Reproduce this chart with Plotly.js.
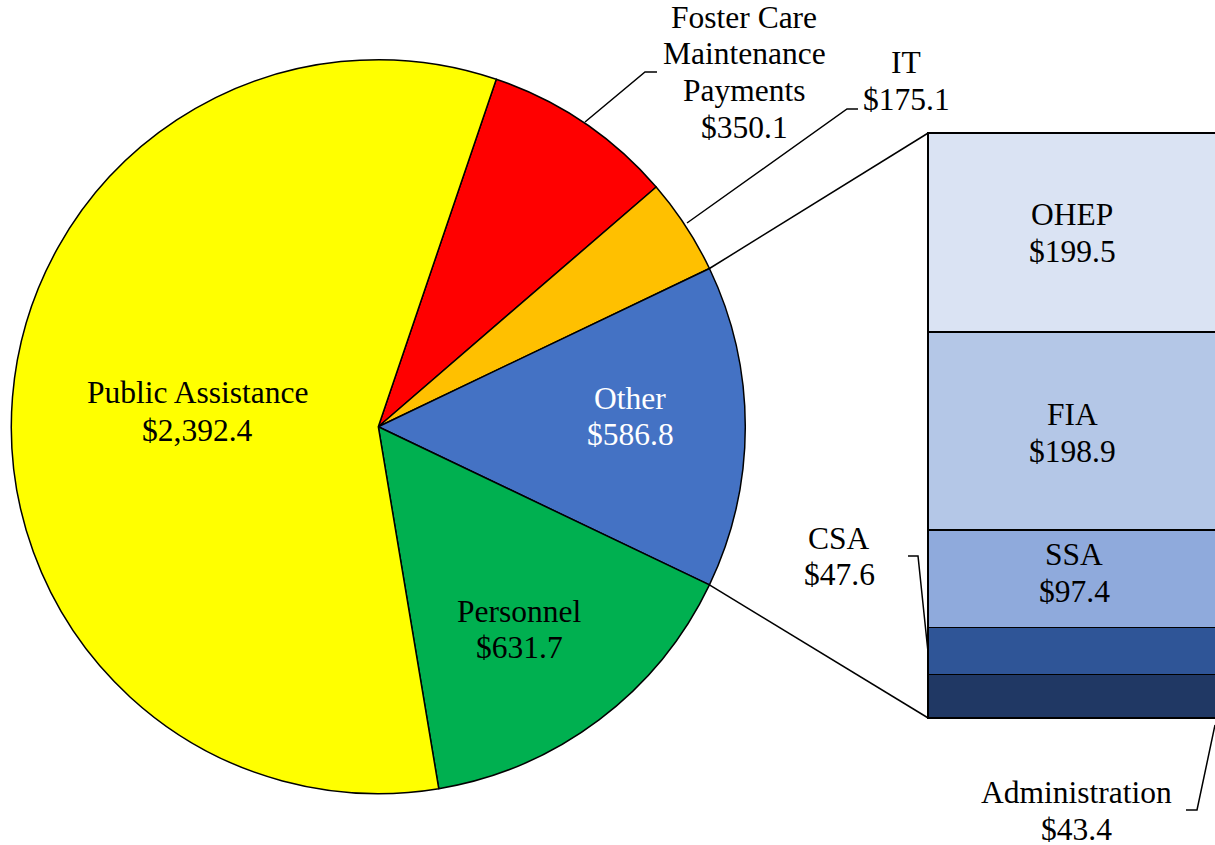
<!DOCTYPE html>
<html><head><meta charset="utf-8">
<script src="https://cdn.plot.ly/plotly-3.0.1.min.js"></script>
<style>html,body{margin:0;padding:0;background:#fff}#chart{width:1215px;height:845px}</style>
</head><body><div id="chart"></div>
<script>
// ---- data ----
const pieLabels = ['Foster Care Maintenance Payments', 'IT', 'Other', 'Personnel', 'Public Assistance'];
const pieValues = [350.1, 175.1, 586.8, 631.7, 2392.4];
const pieColors = ['#FF0000', '#FFC000', '#4472C4', '#00B050', '#FFFF00'];
const barLabels = ['Administration', 'CSA', 'SSA', 'FIA', 'OHEP'];
const barValues = [43.4, 47.6, 97.4, 198.9, 199.5];
const barColors = ['#203864', '#2F5597', '#8FAADC', '#B4C7E7', '#DAE3F3'];

// ---- geometry ----
const W = 1215, H = 845;
const px = x => x / W, py = y => 1 - y / H;
const cx = 378.3, cy = 426.7, R = 367;
const sum = a => a.reduce((s, v) => s + v, 0);
const total = sum(pieValues);
const otherIdx = pieLabels.indexOf('Other');
const before = sum(pieValues.slice(0, otherIdx));
const rotation = 90 - (before + pieValues[otherIdx] / 2) / total * 360;
const a0 = rotation + before / total * 360;
const a1 = a0 + pieValues[otherIdx] / total * 360;
function piePt(a) { const r = a * Math.PI / 180; return [cx + R * Math.sin(r), cy - R * Math.cos(r)]; }

const barTotal = sum(barValues);
const barTopPx = 133, barBotPx = 718;
const xDom = [925 / W, 1], xRange = [-0.51, 0.4];
const k = (barBotPx - barTopPx) / barTotal;
const pad = 6;
const yDom = [py(barBotPx + pad), py(barTopPx - pad)];
const yRange = [-pad / k, barTotal + pad / k];
const xToPaper = v => xDom[0] + (v - xRange[0]) / (xRange[1] - xRange[0]) * (xDom[1] - xDom[0]);
const yToPaper = v => yDom[0] + (v - yRange[0]) / (yRange[1] - yRange[0]) * (yDom[1] - yDom[0]);

const FONT = '"Liberation Serif", "Times New Roman", Times, serif';
const FS = 31.5;

const traces = [{
  type: 'pie', labels: pieLabels, values: pieValues, sort: false,
  direction: 'clockwise', rotation: rotation,
  marker: {colors: pieColors, line: {color: '#000', width: 1.5}},
  textinfo: 'none', hoverinfo: 'label+value', showlegend: false,
  domain: {x: [px(cx - R), px(cx + R)], y: [py(cy + R), py(cy - R)]}
}];
barValues.forEach((v, i) => traces.push({
  type: 'bar', x: [0], y: [v], width: 1, name: barLabels[i],
  marker: {color: barColors[i], line: {color: '#000', width: 1.5}},
  showlegend: false, hoverinfo: 'name+y', xaxis: 'x', yaxis: 'y'
}));

const annotations = [];
function lbl(lines, xc, firstBase, gap, color) {
  lines.forEach((t, i) => annotations.push({
    xref: 'paper', yref: 'paper', x: px(xc), y: py(firstBase + i * gap - 0.34 * FS),
    xanchor: 'center', yanchor: 'middle', showarrow: false, text: t,
    font: {family: FONT, size: FS, color: color || '#000'}
  }));
}
const fmt = v => '$' + v.toLocaleString('en-US', {minimumFractionDigits: 1, maximumFractionDigits: 1});
lbl(['Public Assistance', fmt(pieValues[4])], 197, 403, 38.5);
lbl(['Foster Care', 'Maintenance', 'Payments', fmt(pieValues[0])], 744, 28, 36.7);
lbl(['IT', fmt(pieValues[1])], 906, 73, 37);
lbl(['Other', fmt(pieValues[2])], 630, 409, 36, '#fff');
lbl(['Personnel', fmt(pieValues[3])], 519, 622, 36);
lbl(['OHEP', fmt(barValues[4])], 1072, 225, 37);
lbl(['FIA', fmt(barValues[3])], 1072, 425, 37);
lbl(['SSA', fmt(barValues[2])], 1074, 565, 37);
lbl(['CSA', fmt(barValues[1])], 839, 549, 36);
lbl(['Administration', fmt(barValues[0])], 1076, 803, 37);

const line = {color: '#000', width: 1.5};
const pTop = piePt(a0), pBot = piePt(a1);
const barLeft = xToPaper(-0.5);
const shapes = [
  {type: 'line', xref: 'paper', yref: 'paper', x0: px(pTop[0]), y0: py(pTop[1]), x1: barLeft, y1: yToPaper(barTotal), line},
  {type: 'line', xref: 'paper', yref: 'paper', x0: px(pBot[0]), y0: py(pBot[1]), x1: barLeft, y1: yToPaper(0), line}
];
function leader(pts) {
  const d = pts.map((p, i) => (i ? 'L' : 'M') + px(p[0]).toFixed(5) + ',' + py(p[1]).toFixed(5)).join(' ');
  shapes.push({type: 'path', xref: 'paper', yref: 'paper', path: d, line});
}
leader([[585, 122], [645, 72], [657, 72]]);
leader([[687, 223], [847, 109], [858, 109]]);
leader([[908, 556], [918, 556], [928, 652]]);
leader([[1215, 725], [1197, 810], [1186, 810]]);

const layout = {
  width: W, height: H, margin: {l: 0, r: 0, t: 0, b: 0},
  paper_bgcolor: '#fff', plot_bgcolor: 'rgba(0,0,0,0)',
  barmode: 'stack', bargap: 0, showlegend: false,
  xaxis: {domain: xDom, range: xRange, visible: false, fixedrange: true},
  yaxis: {domain: yDom, range: yRange, visible: false, fixedrange: true},
  annotations, shapes, font: {family: FONT}
};
Plotly.newPlot('chart', traces, layout, {displayModeBar: false, staticPlot: true});
</script></body></html>
